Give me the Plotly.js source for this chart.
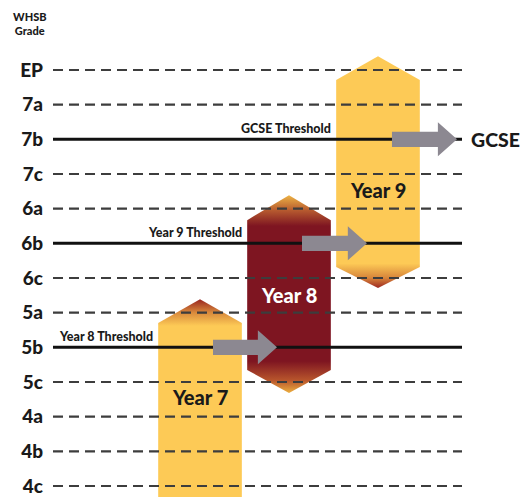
<!DOCTYPE html>
<html>
<head>
<meta charset="utf-8">
<script src="https://cdn.plot.ly/plotly-3.0.1.min.js"></script>
<style>html,body{margin:0;padding:0;background:#fff;}#chart{width:525px;height:497px;}</style>
</head>
<body>
<div id="chart"></div>
<script>
// Grade scale, bottom to top
var grades = ['4c','4b','4a','5c','5b','5a','6c','6b','6a','7c','7b','7a','EP'];

// Year bands (positions on the grade scale, 0 = 4c ... 12 = EP)
var years = ['Year 7','Year 8','Year 9'];
var bandBottomTip    = [-1.0, 2.68, 5.71];
var bandBottomCorner = [-1.0, 3.35, 6.32];
var bandTopCorner    = [4.70, 7.67, 11.71];
var bandTopTip       = [5.39, 8.39, 12.40];
var bandLabelY       = [2.57, 5.51, 8.54];

// Thresholds
var thresholdNames  = ['Year 8 Threshold','Year 9 Threshold','GCSE Threshold'];
var thresholdGrades = ['5b','6b','7b'];
var arrowStart = [1.146, 2.146, 3.157];
var arrowTip   = [1.865, 2.876, 3.888];

// styling
var X0 = -0.652, X1 = 3.944;
var YELLOW = '#FDCA56', MAROON = '#7E1521', GRAY = '#8C8891';
var FONT = '"Lato Black", Lato, "Open Sans", sans-serif';
var hw = 0.47;

function gidx(g){ return grades.indexOf(g); }
function scale(lo, hi, stops){
  return stops.map(function(s){ return [(s[0]-lo)/(hi-lo), s[1]]; });
}
var gradients = [
  function(lo,hi){ return scale(lo,hi,[[lo,YELLOW],[4.62,YELLOW],[5.0,'#D98A3C'],[hi,'#982420']]); },
  function(lo,hi){ return scale(lo,hi,[[lo,'#EDB040'],[3.05,'#B8552C'],[3.6,MAROON],[7.5,MAROON],[7.95,'#B65A2F'],[hi,'#EEB445']]); },
  function(lo,hi){ return scale(lo,hi,[[lo,'#9C2620'],[6.0,'#D7843A'],[6.42,YELLOW],[hi,YELLOW]]); }
];

var traces = [];
years.forEach(function(name, i){
  var c = i + 1;
  var bt = bandBottomTip[i], bc = bandBottomCorner[i], tc = bandTopCorner[i], tt = bandTopTip[i];
  traces.push({
    type:'scatter', mode:'none', fill:'toself', hoverinfo:'skip',
    x:[c-hw, c-hw, c, c+hw, c+hw, c, c-hw],
    y:[bc, tc, tt, tc, bc, bt, bc],
    fillcolor: i===1 ? MAROON : YELLOW,
    fillgradient:{type:'vertical', start: bt, stop: tt, colorscale: gradients[i](bt, tt)}
  });
});

// grade lines
grades.forEach(function(g, k){
  var solid = thresholdGrades.indexOf(g) >= 0;
  traces.push({
    type:'scatter', mode:'lines', hoverinfo:'skip',
    x:[X0, X1], y:[k, k],
    line: solid ? {color:'#111', width:3} : {color:'#3d3d3d', width:2.2, dash:'10px,6px'}
  });
});

// arrows
var shaftH = 0.22, headH = 0.49, headL = 0.215;
thresholdGrades.forEach(function(g, i){
  var y = gidx(g), s = arrowStart[i], t = arrowTip[i], hb = t - headL;
  traces.push({
    type:'scatter', mode:'none', fill:'toself', fillcolor:GRAY, hoverinfo:'skip',
    x:[s, hb, hb, t, hb, hb, s],
    y:[y-shaftH, y-shaftH, y-headH, y, y+headH, y+shaftH, y+shaftH]
  });
});

var annotations = [];
years.forEach(function(name, i){
  annotations.push({
    x: i+1, y: bandLabelY[i], xref:'x', yref:'y', text:name, showarrow:false,
    font:{family:FONT, size:20, weight:900, color: i===1 ? '#ffffff' : '#1a1a1a'}
  });
});
thresholdNames.forEach(function(name, i){
  annotations.push({
    x: i + 0.494, y: gidx(thresholdGrades[i]) + 0.05, xref:'x', yref:'y',
    xanchor:'right', yanchor:'bottom', text:name, showarrow:false,
    font:{family:FONT, size:12.5, weight:900, color:'#1a1a1a'}
  });
});
annotations.push({
  x:1.018, y:gidx('7b'), xref:'paper', yref:'y', xanchor:'left', yanchor:'middle',
  text:'GCSE', showarrow:false, font:{family:FONT, size:19.5, weight:900, color:'#1a1a1a'}
});
annotations.push({
  x:-0.056, y:13.34, xref:'paper', yref:'y', xanchor:'center', yanchor:'middle',
  text:'WHSB<br>Grade', showarrow:false, align:'center',
  font:{family:FONT, size:11, weight:900, color:'#1a1a1a'}
});

var layout = {
  width:525, height:497,
  margin:{l:53, r:63, t:0, b:0, pad:0},
  paper_bgcolor:'#fff', plot_bgcolor:'#fff',
  showlegend:false,
  xaxis:{range:[X0, X1], visible:false, fixedrange:true},
  yaxis:{
    range:[-0.317, 14.02], tickvals: grades.map(function(g,k){return k;}), ticktext: grades,
    showgrid:false, zeroline:false, showline:false, ticks:'', ticklabelstandoff:9,
    tickfont:{family:FONT, size:19, weight:900, color:'#1a1a1a'}, fixedrange:true
  },
  annotations: annotations
};

Plotly.newPlot('chart', traces, layout, {staticPlot:true, displayModeBar:false});
</script>
</body>
</html>
